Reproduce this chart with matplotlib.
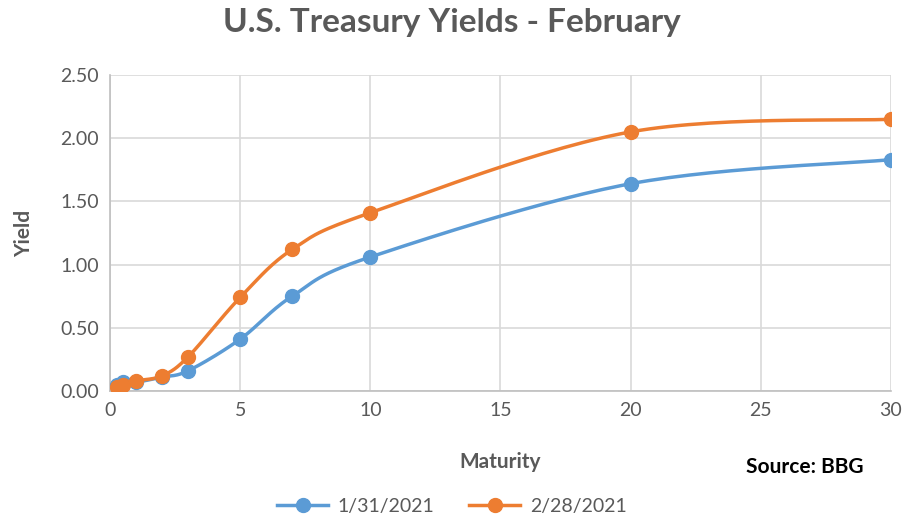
import numpy as np
import matplotlib.pyplot as plt

plt.rcParams['font.family'] = ['Lato', 'DejaVu Sans']

maturity = [0.25, 0.5, 1, 2, 3, 5, 7, 10, 20, 30]
yield_jan = [0.05, 0.07, 0.07, 0.11, 0.16, 0.41, 0.75, 1.06, 1.64, 1.83]
yield_feb = [0.03, 0.05, 0.08, 0.12, 0.27, 0.74, 1.12, 1.41, 2.05, 2.15]
labels = ['1/31/2021', '2/28/2021']
colors = ['#5b9bd5', '#ed7d31']
grey = '#595959'


def smooth(x, y, n=30):
    # excel-like smoothing: catmull-rom bezier in scaled space
    x = np.asarray(x, float) / 30.0
    y = np.asarray(y, float) / 2.5 * 0.405
    px = np.concatenate([[x[0]], x, [x[-1]]])
    py = np.concatenate([[y[0]], y, [y[-1]]])
    ox, oy = [], []
    t = np.linspace(0, 1, n)
    for i in range(1, len(px) - 2):
        p0 = np.array([px[i], py[i]])
        p3 = np.array([px[i + 1], py[i + 1]])
        c1 = p0 + (np.array([px[i + 1], py[i + 1]]) - np.array([px[i - 1], py[i - 1]])) / 6
        c2 = p3 - (np.array([px[i + 2], py[i + 2]]) - np.array([px[i], py[i]])) / 6
        pts = (np.outer((1 - t) ** 3, p0) + np.outer(3 * (1 - t) ** 2 * t, c1)
               + np.outer(3 * (1 - t) * t ** 2, c2) + np.outer(t ** 3, p3))
        ox.extend(pts[:, 0])
        oy.extend(pts[:, 1])
    return np.array(ox) * 30.0, np.array(oy) / 0.405 * 2.5


fig = plt.figure(figsize=(9.04, 5.27), dpi=100)
ax = fig.add_axes([110 / 904, 136 / 527, 781 / 904, 316 / 527])

for ys, lab, c in zip([yield_jan, yield_feb], labels, colors):
    sx, sy = smooth(maturity, ys)
    ax.plot(sx, sy, color=c, lw=2.5, zorder=3)
    ax.plot(maturity, ys, 'o', color=c, ms=10, zorder=4)
    ax.plot([], [], '-o', color=c, lw=2.5, ms=10, label=lab)

ax.set_xlim(0, 30)
ax.set_ylim(0, 2.5)
ax.set_xticks(range(0, 31, 5))
ax.set_yticks(np.arange(0, 2.51, 0.5))
ax.set_yticklabels([f'{v:.2f}' for v in np.arange(0, 2.51, 0.5)])
ax.grid(True, color='#d9d9d9', lw=1.2)
ax.set_axisbelow(True)
for s in ['top', 'right']:
    ax.spines[s].set_visible(False)
for s in ['left', 'bottom']:
    ax.spines[s].set_color('#bfbfbf')
    ax.spines[s].set_linewidth(1.2)
ax.tick_params(length=0, labelsize=14, colors=grey, pad=8)

ax.set_xlabel('Maturity', fontsize=15, fontweight='bold', color=grey, labelpad=24)
ax.set_ylabel('Yield', fontsize=15, fontweight='bold', color=grey, labelpad=19)
fig.text(0.5, 0.958, 'U.S. Treasury Yields - February', ha='center', va='center',
         fontsize=24, fontweight='bold', color=grey)
fig.text(0.955, 0.113, 'Source: BBG', ha='right', va='center',
         fontsize=15, fontweight='bold', color='black')

fig.legend(loc='lower center', bbox_to_anchor=(0.5, -0.01), ncol=2, frameon=False,
           fontsize=14, labelcolor=grey, handlelength=2.6, handletextpad=0.5,
           columnspacing=1.8)

fig.savefig('out.png', dpi=100)
